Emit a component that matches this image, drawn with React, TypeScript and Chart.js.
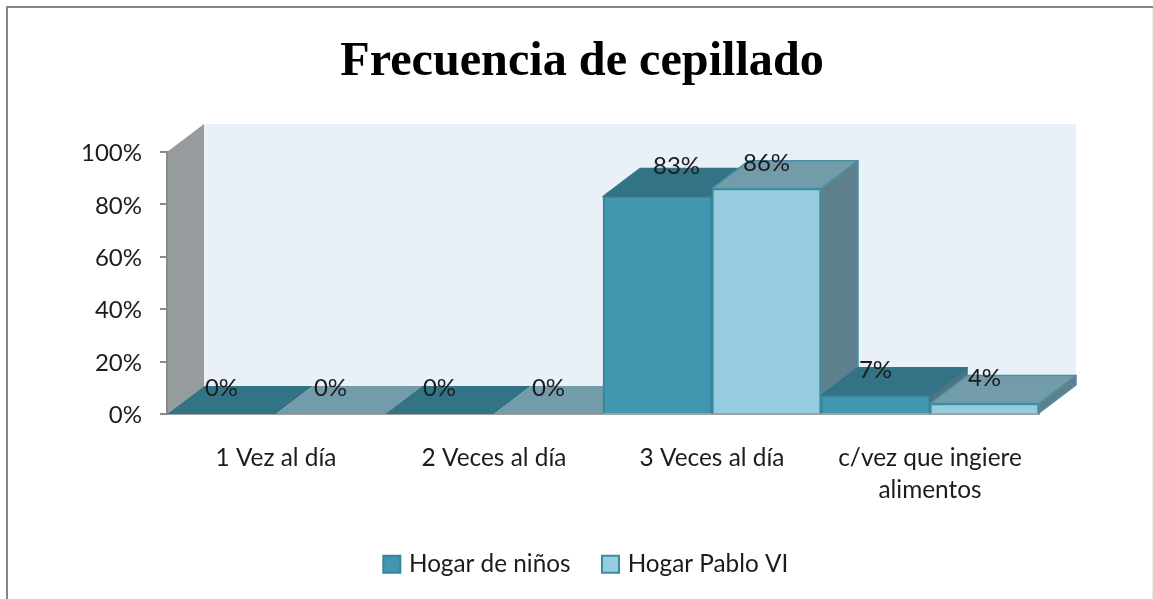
import React, { useEffect, useRef } from "react";
import { Chart, registerables } from "chart.js";

Chart.register(...registerables);

const titleText = "Frecuencia de cepillado";
const categories: (string | string[])[] = [
  "1 Vez al día",
  "2 Veces al día",
  "3 Veces al día",
  ["c/vez que ingiere", "alimentos"],
];
const hogarDeNinos = [0, 0, 83, 7];
const hogarPabloVI = [0, 0, 86, 4];
const yTicks = [0, 20, 40, 60, 80, 100];

const DEPTH_X = 37;
const DEPTH_Y = 28;
const FONT = "Lato";
const TEXT = "#1c1c1c";
const LEGEND_PADDING = 35;

const faces = [
  { front: "#4097AF", border: "#35859C", top: "#327485", side: "#4F7380", edge: "#327485" },
  { front: "#95CDDE", border: "#3C8BA2", top: "#729CAA", side: "#5E808C", edge: "#4A8FA3" },
];

const para = (ctx: CanvasRenderingContext2D, x0: number, y0: number, x1: number, y1: number, x2: number, y2: number, x3: number, y3: number) => {
  ctx.beginPath();
  ctx.moveTo(x0, y0);
  ctx.lineTo(x1, y1);
  ctx.lineTo(x2, y2);
  ctx.lineTo(x3, y3);
  ctx.closePath();
};

const frame3d = {
  id: "frame3d",
  afterLayout(chart: any) {
    chart.titleBlock.left += 5.5;
    chart.titleBlock.right += 5.5;
    chart.legend.left += 11;
    chart.legend.right += 11;
    chart.legend.top = 552 - LEGEND_PADDING;
  },
  beforeDraw(chart: any) {
    const { ctx, width, height, chartArea: a } = chart;
    ctx.save();
    ctx.fillStyle = "#ffffff";
    ctx.fillRect(0, 0, width, height);
    ctx.fillStyle = "#868686";
    ctx.fillRect(6, 6, width, 2);
    ctx.fillRect(6, 6, 2, height);
    ctx.fillStyle = "#ececec";
    ctx.fillRect(width - 1, 8, 1, height);
    // back wall
    ctx.fillStyle = "#E9F0F7";
    ctx.fillRect(a.left + DEPTH_X, a.top - DEPTH_Y, a.right - a.left, a.bottom - a.top);
    // left wall
    ctx.fillStyle = "#969C9E";
    para(ctx, a.left, a.top, a.left + DEPTH_X, a.top - DEPTH_Y, a.left + DEPTH_X, a.bottom - DEPTH_Y, a.left, a.bottom);
    ctx.fill();
    ctx.restore();
  },
  beforeDatasetsDraw(chart: any) {
    const { ctx } = chart;
    ctx.save();
    ctx.lineJoin = "round";
    categories.forEach((_, i) => {
      [0, 1].forEach((d) => {
        const bar = chart.getDatasetMeta(d).data[i];
        const left = bar.x - bar.width / 2;
        const right = bar.x + bar.width / 2;
        const f = faces[d];
        const raised = bar.base - bar.y > 0;
        if (raised) {
          ctx.fillStyle = f.side;
          para(ctx, right, bar.y, right + DEPTH_X, bar.y - DEPTH_Y, right + DEPTH_X, bar.base - DEPTH_Y, right, bar.base);
          ctx.fill();
          ctx.strokeStyle = f.edge;
          ctx.lineWidth = 1.5;
          ctx.stroke();
        }
        ctx.fillStyle = f.top;
        para(ctx, left, bar.y, left + DEPTH_X, bar.y - DEPTH_Y, right + DEPTH_X, bar.y - DEPTH_Y, right, bar.y);
        ctx.fill();
        if (raised) {
          ctx.strokeStyle = f.edge;
          ctx.lineWidth = 1.5;
          ctx.stroke();
        }
      });
    });
    ctx.restore();
  },
  afterDatasetsDraw(chart: any) {
    const { ctx } = chart;
    ctx.save();
    ctx.font = `24px ${FONT}`;
    ctx.fillStyle = TEXT;
    ctx.textAlign = "center";
    ctx.textBaseline = "middle";
    chart.data.datasets.forEach((ds: any, d: number) => {
      ds.data.forEach((v: number, i: number) => {
        const bar = chart.getDatasetMeta(d).data[i];
        const moved = d === 0 && i === 2;
        ctx.fillText(`${v}%`, bar.x + (moved ? 19 : 0), bar.y - DEPTH_Y + (moved ? -2 : 2.5));
      });
    });
    ctx.restore();
  },
};

export default function App() {
  const ref = useRef<HTMLCanvasElement>(null);
  useEffect(() => {
    document.body.style.margin = "0";
    const chart = new Chart(ref.current as HTMLCanvasElement, {
      type: "bar",
      data: {
        labels: categories as any,
        datasets: [
          { label: "Hogar de niños", data: hogarDeNinos, backgroundColor: faces[0].front, borderColor: faces[0].border, borderWidth: 2 },
          { label: "Hogar Pablo VI", data: hogarPabloVI, backgroundColor: faces[1].front, borderColor: faces[1].border, borderWidth: 2 },
        ],
      },
      options: {
        responsive: false,
        animation: false,
        layout: { padding: 0 },
        datasets: { bar: { barPercentage: 1, categoryPercentage: 1 } },
        plugins: {
          tooltip: { enabled: false },
          title: {
            display: true,
            text: titleText,
            color: "#000000",
            font: { family: "Liberation Serif", size: 48.2, weight: "bold", lineHeight: 1 },
            padding: { top: 38, bottom: 65.8 },
          },
          legend: {
            position: "bottom",
            labels: {
              usePointStyle: true,
              pointStyle: "rect",
              boxWidth: 10,
              boxHeight: 17,
              padding: LEGEND_PADDING,
              color: TEXT,
              font: { family: FONT, size: 24.3 },
            },
          },
        },
        scales: {
          x: {
            afterFit: (s: any) => { s.height = 599 - 414 - (s.chart.legend?.height || 0); },
            grid: { display: true, drawOnChartArea: false, drawTicks: false, tickLength: 0 },
            border: { color: "#A0A0A0", width: 2 },
            ticks: { color: TEXT, padding: 28, maxRotation: 0, autoSkip: false, font: { family: FONT, size: 24.4, lineHeight: 1.31 } },
          },
          y: {
            min: 0,
            max: 100,
            afterFit: (s: any) => { s.width = 167; },
            afterBuildTicks: (s: any) => { s.ticks = yTicks.map((value) => ({ value })); },
            grid: { drawOnChartArea: false, drawTicks: true, tickLength: 7, color: "#8A8A8A", lineWidth: 2 },
            border: { color: "#8A8A8A", width: 2 },
            ticks: { color: TEXT, padding: 18, labelOffset: 1.5, font: { family: FONT, size: 24 }, callback: (v: any) => `${v}%` },
          },
          spacer: {
            type: "linear",
            axis: "y",
            position: "right",
            afterFit: (s: any) => { s.width = 114; },
            grid: { display: false },
            border: { display: false },
            ticks: { display: false },
          },
        },
      },
      plugins: [frame3d],
    } as any);
    return () => chart.destroy();
  }, []);
  return (
    <div style={{ position: "absolute", left: 0, top: 0, width: 1153, height: 599 }}>
      <canvas ref={ref} width={1153} height={599} style={{ display: "block" }} />
    </div>
  );
}
